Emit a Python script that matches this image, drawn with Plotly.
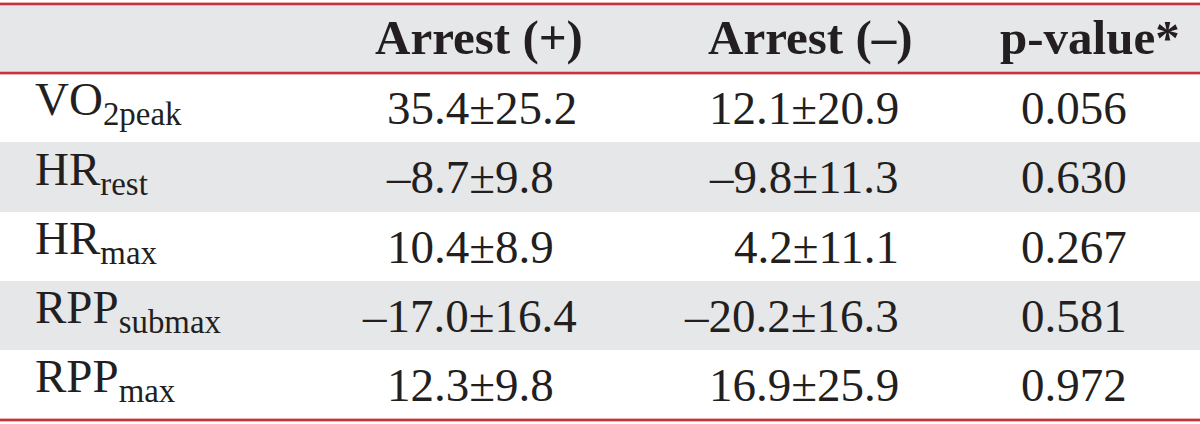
import plotly.graph_objects as go

# ---- data ----
headers = ["", "Arrest (+)", "Arrest (–)", "p-value*"]
label_main = ["VO", "HR", "HR", "RPP", "RPP"]
label_sub = ["2peak", "rest", "max", "submax", "max"]
arrest_pos_mean = [35.4, -8.7, 10.4, -17.0, 12.3]
arrest_pos_sd = [25.2, 9.8, 8.9, 16.4, 9.8]
arrest_neg_mean = [12.1, -9.8, 4.2, -20.2, 16.9]
arrest_neg_sd = [20.9, 11.3, 11.1, 16.3, 25.9]
p_values = ["0.056", "0.630", "0.267", "0.581", "0.972"]

# ---- style ----
W, H = 1200, 424
FONT = "Liberation Serif"
TXT = "#231f20"
GRAY = "#e6e7e8"
RED = "#c8323c"
PINK = "#eab0b4"
BODY_SIZE = 47
HEAD_SIZE = 49
DIGIT_W = 0.5 * BODY_SIZE

header_top, header_bot = 5, 72.5
row_edges = [73.5, 142, 212, 281, 350, 419]
line_ys = [4, 73, 420]

label_x = 33
col_right = [579, 901, 1129]
head_cx = [479, 810, 1090]


def fmt(m, s):
    return f"{m:.1f}".replace("-", "–") + "±" + f"{s:.1f}"


fig = go.Figure()
shapes = []
shapes.append(dict(type="rect", xref="x", yref="y", x0=0, x1=W, y0=header_top, y1=header_bot,
                   fillcolor=GRAY, line=dict(width=0), layer="below"))
for i in range(len(label_main)):
    if i % 2 == 1:
        shapes.append(dict(type="rect", xref="x", yref="y", x0=0, x1=W,
                           y0=row_edges[i], y1=row_edges[i + 1],
                           fillcolor=GRAY, line=dict(width=0), layer="below"))
for y in line_ys:
    shapes.append(dict(type="line", xref="x", yref="y", x0=0, x1=W, y0=y, y1=y,
                       line=dict(color=PINK, width=4)))
    shapes.append(dict(type="line", xref="x", yref="y", x0=0, x1=W, y0=y, y1=y,
                       line=dict(color=RED, width=2)))

ann = []
hy = (header_top + header_bot) / 2
for j, h in enumerate(headers[1:]):
    ann.append(dict(x=head_cx[j], y=hy, xref="x", yref="y", text=f"<b>{h}</b>",
                    showarrow=False, xanchor="center", yanchor="middle", yshift=1,
                    font=dict(family=FONT, size=HEAD_SIZE, color=TXT)))

for i in range(len(label_main)):
    cy = (row_edges[i] + row_edges[i + 1]) / 2
    ann.append(dict(x=label_x, y=cy, xref="x", yref="y",
                    text=f"{label_main[i]}<sub>{label_sub[i]}</sub>",
                    showarrow=False, xanchor="left", yanchor="middle", yshift=5,
                    font=dict(family=FONT, size=BODY_SIZE, color=TXT)))
    cols = [(arrest_pos_mean, arrest_pos_sd), (arrest_neg_mean, arrest_neg_sd)]
    for j, (mv, sv) in enumerate(cols):
        pad = 1 if abs(sv[i]) < 10 else 0
        ann.append(dict(x=col_right[j] - pad * DIGIT_W, y=cy, xref="x", yref="y",
                        text=fmt(mv[i], sv[i]), showarrow=False,
                        xanchor="right", yanchor="middle",
                        font=dict(family=FONT, size=BODY_SIZE, color=TXT)))
    ann.append(dict(x=col_right[2], y=cy, xref="x", yref="y", text=p_values[i],
                    showarrow=False, xanchor="right", yanchor="middle",
                    font=dict(family=FONT, size=BODY_SIZE, color=TXT)))

fig.update_layout(
    width=W, height=H,
    margin=dict(l=0, r=0, t=0, b=0),
    paper_bgcolor="white", plot_bgcolor="white",
    xaxis=dict(range=[0, W], visible=False, fixedrange=True),
    yaxis=dict(range=[H, 0], visible=False, fixedrange=True),
    shapes=shapes, annotations=ann, showlegend=False,
)
fig.write_html("out.html", config={"displayModeBar": False},
               post_script="document.body.style.margin='0';document.body.style.overflow='hidden';")
